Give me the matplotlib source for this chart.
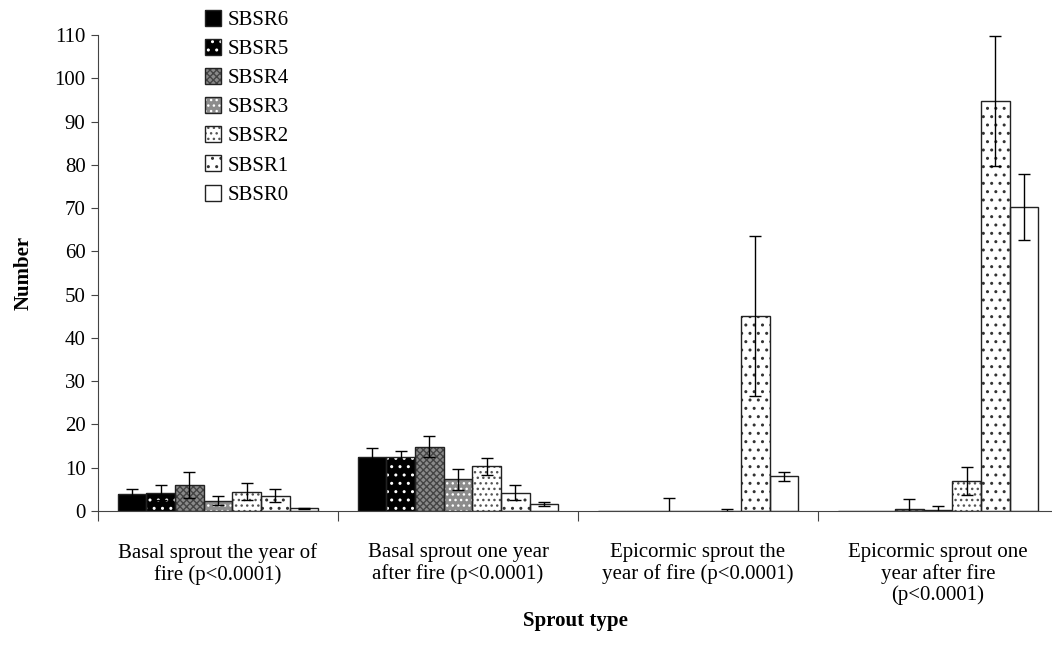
import matplotlib
matplotlib.use("Agg")
import matplotlib.pyplot as plt
import numpy as np
from matplotlib.legend_handler import HandlerTuple

plt.rcParams['font.family'] = ['Liberation Serif', 'DejaVu Serif']
plt.rcParams['hatch.linewidth'] = 1.0

categories = ["Basal sprout the year of\nfire (p<0.0001)",
              "Basal sprout one year\nafter fire (p<0.0001)",
              "Epicormic sprout the\nyear of fire (p<0.0001)",
              "Epicormic sprout one\nyear after fire\n(p<0.0001)"]
series = ["SBSR6", "SBSR5", "SBSR4", "SBSR3", "SBSR2", "SBSR1", "SBSR0"]

sbsr6 = [4.0, 12.4, 0.0, 0.0]
sbsr5 = [4.25, 12.55, 0.0, 0.0]
sbsr4 = [5.9, 14.9, 0.0, 0.45]
sbsr3 = [2.4, 7.3, 0.0, 0.15]
sbsr2 = [4.5, 10.3, 0.1, 7.0]
sbsr1 = [3.55, 4.25, 45.0, 94.7]
sbsr0 = [0.6, 1.55, 8.0, 70.2]

err6 = [1.1, 2.1, 0.0, 0.0]
err5 = [1.7, 1.4, 0.0, 0.0]
err4 = [3.0, 2.5, 2.9, 2.4]
err3 = [1.1, 2.4, 0.0, 0.9]
err2 = [1.9, 2.0, 0.35, 3.2]
err1 = [1.5, 1.75, 18.5, 15.0]
err0 = [0.15, 0.45, 1.1, 7.6]

values = [sbsr6, sbsr5, sbsr4, sbsr3, sbsr2, sbsr1, sbsr0]
errors = [err6, err5, err4, err3, err2, err1, err0]

# fill colour, hatch pattern, hatch colour
styles = [("black", None, "black"),
          ("black", "..", "white"),
          ("#8a8a8a", "xxxxx", "#444444"),
          ("#8c8c8c", "...", "white"),
          ("white", "...", "#555555"),
          ("white", "..", "#333333"),
          ("white", None, "black")]

FS = 15

fig = plt.figure(figsize=(10.52, 6.64), dpi=100)
ax = fig.add_axes([98 / 1052, 1 - 511 / 664, 960 / 1052, 476 / 664])

x = np.arange(len(categories))
width = 0.1195
handles = []
for i, name in enumerate(series):
    pos = x + 0.5 + (i - 3) * width
    fc, hatch, hc = styles[i]
    b1 = ax.bar(pos, values[i], width, color=fc, edgecolor=hc, hatch=hatch, linewidth=0, zorder=2)
    b2 = ax.bar(pos, values[i], width, fill=False, edgecolor="#222222", linewidth=1.0, zorder=3)
    err = np.array(errors[i])
    m = err > 0
    ax.errorbar(pos[m], np.array(values[i])[m], yerr=err[m], fmt="none", ecolor="black",
                elinewidth=1.0, capsize=4, capthick=1.0, zorder=4)
    handles.append((b1[0], b2[0]))

ax.set_xlim(0, 4)
ax.set_ylim(0, 110)
ax.set_yticks(np.arange(0, 111, 10))
ax.set_xticks([0, 1, 2, 3])
ax.set_xticklabels([])
ax.set_xticks(x + 0.5, minor=True)
ax.set_xticklabels(categories, minor=True, fontsize=FS, linespacing=1.12)
ax.tick_params(axis="x", which="minor", length=0, pad=23)
ax.tick_params(axis="x", which="major", direction="out", length=7, color="#444444")
ax.tick_params(axis="y", direction="out", length=5, pad=4, labelsize=FS, color="#444444")
ax.spines["top"].set_visible(False)
ax.spines["right"].set_visible(False)
ax.spines["left"].set_color("#444444")
ax.spines["bottom"].set_color("#444444")

ax.set_ylabel("Number", fontsize=FS, fontweight="bold", labelpad=15)
fig.text(575 / 1052, 1 - 621 / 664, "Sprout type", fontsize=FS, fontweight="bold",
         ha="center", va="center")

fig.legend(handles, series, handler_map={tuple: HandlerTuple(ndivide=1, pad=0)},
           loc="upper left", bbox_to_anchor=(190 / 1052, 1 + 5 / 664), frameon=False,
           fontsize=FS, handlelength=0.8, handleheight=0.8, handletextpad=0.3,
           labelspacing=0.43, borderpad=0.2)

fig.savefig("out.png", dpi=100)
